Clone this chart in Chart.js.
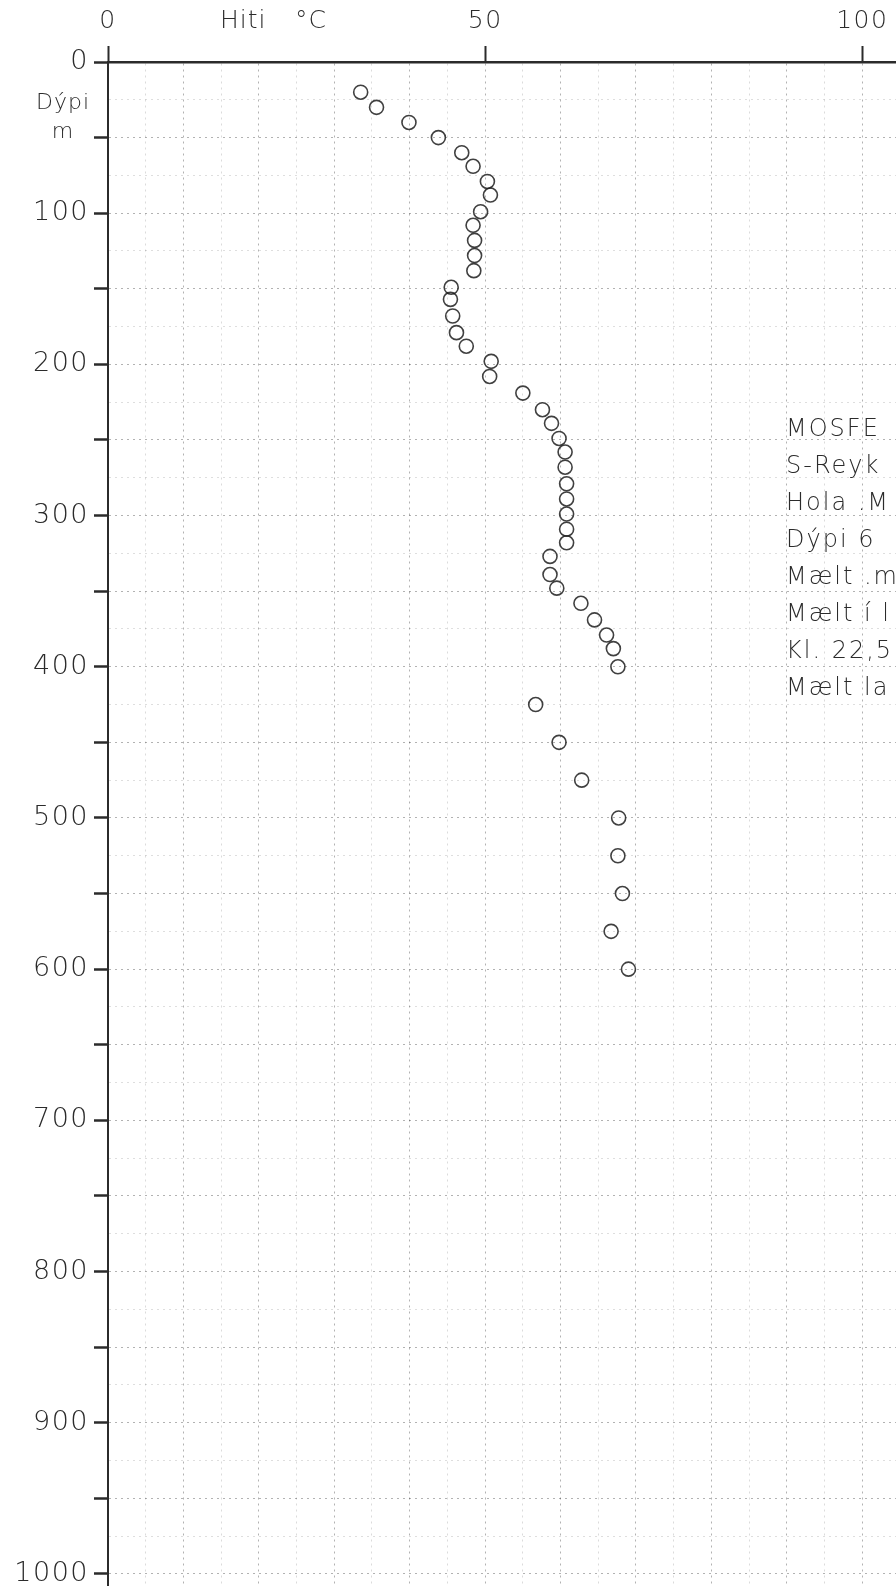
<!DOCTYPE html>
<html>
<head>
<meta charset="utf-8">
<script src="https://cdn.jsdelivr.net/npm/chart.js@4.4.1/dist/chart.umd.min.js"></script>
<style>
  html, body { margin: 0; padding: 0; background: #fff; }
  #wrap { width: 896px; height: 1586px; position: relative; }
</style>
</head>
<body>
<div id="wrap"><canvas id="logChart"></canvas></div>
<script>
// hitamæling, dýpi (m) og hiti (°C) lesið af blaðinu
const depths = [20, 30, 40, 50, 60, 69, 79, 88, 99, 108, 118, 128, 138, 149, 157, 168, 179, 188, 198, 208,
  219, 230, 239, 249, 258, 268, 279, 289, 299, 309, 318, 327, 339, 348, 358, 369, 379, 388, 400,
  425, 450, 475, 500, 525, 550, 575, 600];
const temps = [33.5, 35.6, 39.9, 43.8, 46.9, 48.4, 50.3, 50.7, 49.4, 48.4, 48.6, 48.6, 48.5, 45.5, 45.4, 45.7, 46.2, 47.5, 50.8, 50.6,
  55.0, 57.6, 58.8, 59.8, 60.6, 60.6, 60.8, 60.8, 60.8, 60.8, 60.8, 58.6, 58.6, 59.5, 62.7, 64.5, 66.1, 67.0, 67.6,
  56.7, 59.8, 62.8, 67.7, 67.6, 68.2, 66.7, 69.0];

const tempLabels = [0, 50, 100];
const depthLabels = [0, 100, 200, 300, 400, 500, 600, 700, 800, 900, 1000];

const infoLines = ['MOSFE', 'S-Reyk', 'Hola .M', 'Dýpi 6', 'Mælt .m', 'Mælt í l', 'Kl. 22,5', 'Mælt la'];

const ink = '#2b2b2b';
const fontFam = "'DejaVu Sans', sans-serif";

// rúðustrik á 5 °C og 25 m fresti
function stepTicks(to, step) {
    const out = [];
    for (let v = 0; v <= to; v += step) out.push({ value: v });
    return out;
}

const spacingPlugin = {
    id: 'spacing',
    beforeDraw(chart) { chart.ctx.letterSpacing = '1.5px'; },
    afterDraw(chart) { chart.ctx.letterSpacing = '0px'; }
};

const textPlugin = {
    id: 'paperText',
    afterDraw(chart) {
        const ctx = chart.ctx;
        ctx.save();
        ctx.fillStyle = ink;
        ctx.textBaseline = 'middle';
        ctx.letterSpacing = '1px';
        ctx.font = `200 25px ${fontFam}`;
        ctx.textAlign = 'left';
        ctx.fillText('Hiti', 220, 21);
        ctx.fillText('°C', 295, 21);
        ctx.font = `200 22px ${fontFam}`;
        ctx.textAlign = 'center';
        ctx.fillText('Dýpi', 63, 103);
        ctx.fillText('m', 63, 132);
        // textinn til hægri, klipptur af brún blaðsins
        ctx.textAlign = 'left';
        ctx.font = `200 24px ${fontFam}`;
        ctx.letterSpacing = '2px';
        infoLines.forEach((t, i) => {
            ctx.fillText(t, 786, 430 + i * 37);
        });
        ctx.restore();
    }
};

const ctx = document.getElementById('logChart').getContext('2d');
const logChart = new Chart(ctx, {
    type: 'scatter',
    data: {
        datasets: [{
            label: 'Hiti',
            data: depths.map((d, i) => ({ x: temps[i], y: d })),
            pointStyle: 'circle',
            pointRadius: 7,
            pointBackgroundColor: 'rgba(0,0,0,0)',
            pointBorderColor: 'rgba(30,30,30,0.85)',
            pointBorderWidth: 1.6
        }]
    },
    options: {
        responsive: true,
        maintainAspectRatio: false,
        animation: false,
        layout: { padding: 0, autoPadding: false },
        plugins: {
            legend: { display: false },
            tooltip: { enabled: false }
        },
        scales: {
            x: {
                type: 'linear',
                position: 'top',
                min: 0,
                max: 104.47,
                afterBuildTicks(scale) { scale.ticks = stepTicks(100, 5); },
                afterFit(scale) {
                    scale.height = 62;
                    scale.paddingLeft = 0;
                    scale.paddingRight = 0;
                },
                ticks: {
                    autoSkip: false,
                    maxRotation: 0,
                    padding: 10,
                    color: ink,
                    font: { family: fontFam, size: 25, weight: '200' },
                    callback: v => tempLabels.includes(v) ? String(v) : ''
                },
                grid: {
                    color: c => c.tick && c.tick.value % 10 === 0 ? 'rgba(0,0,0,0.3)' : 'rgba(0,0,0,0.14)',
                    lineWidth: 1,
                    drawTicks: true,
                    tickLength: 16,
                    tickColor: c => c.tick && tempLabels.includes(c.tick.value) ? ink : 'rgba(0,0,0,0)',
                    tickWidth: 2
                },
                border: { display: true, color: ink, width: 2.5, dash: [2, 4] }
            },
            y: {
                type: 'linear',
                reverse: true,
                min: 0,
                max: 1008,
                afterBuildTicks(scale) { scale.ticks = stepTicks(1000, 25); },
                afterFit(scale) {
                    scale.width = 108;
                    scale.paddingTop = 0;
                    scale.paddingBottom = 0;
                },
                ticks: {
                    autoSkip: false,
                    padding: 5,
                    color: ink,
                    font: { family: fontFam, size: 27, weight: '200' },
                    callback: v => depthLabels.includes(v) ? String(v) : ''
                },
                grid: {
                    color: c => c.tick && c.tick.value % 50 === 0 ? 'rgba(0,0,0,0.3)' : 'rgba(0,0,0,0.13)',
                    lineWidth: 1,
                    drawTicks: true,
                    tickLength: 14,
                    tickColor: c => c.tick && c.tick.value % 50 === 0 ? ink : 'rgba(0,0,0,0)',
                    tickWidth: 2.5
                },
                border: { display: true, color: ink, width: 2, dash: [2, 4] }
            }
        }
    },
    plugins: [spacingPlugin, textPlugin]
});
</script>
</body>
</html>
